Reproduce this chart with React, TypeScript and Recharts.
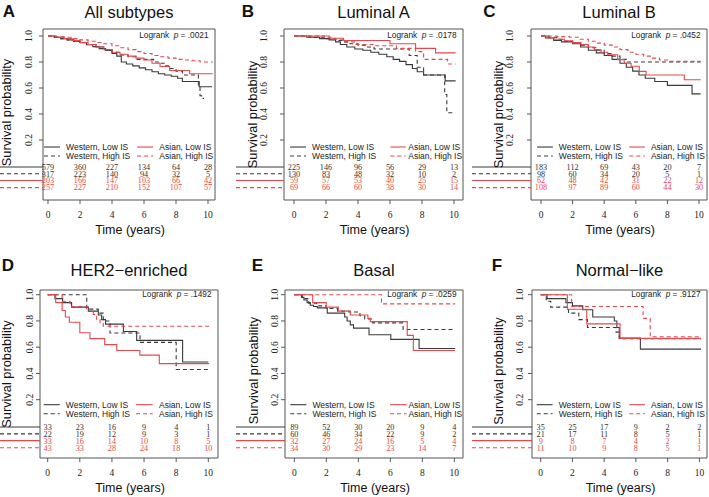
import { LineChart, Line, XAxis, YAxis, ReferenceArea, ReferenceLine, ReferenceDot } from 'recharts';

const BLACK = '#3a3a3a';
const RED = '#e5484d';
const FRAME = '#555';
const SERIF = '"Liberation Serif", "Times New Roman", serif';
const SANS = '"Liberation Sans", Arial, Helvetica, sans-serif';

const years = [0, 2, 4, 6, 8, 10];
const probTicks = [0.2, 0.4, 0.6, 0.8, 1.0];
const groups = ['Western, Low IS', 'Western, High IS', 'Asian, Low IS', 'Asian, High IS'];
const letters = ['A', 'B', 'C', 'D', 'E', 'F'];
const titles = ['All subtypes', 'Luminal A', 'Luminal B', 'HER2\u2212enriched', 'Basal', 'Normal\u2212like'];
const pValues = ['.0021', '.0178', '.0452', '.1492', '.0259', '.9127'];

// Kaplan-Meier curves, [time (years), survival]
const aWL = [[0,1],[0.4,0.99],[0.8,0.98],[1.2,0.97],[1.6,0.96],[2.0,0.948],[2.4,0.933],[2.8,0.918],[3.2,0.903],[3.6,0.888],[4.0,0.865],[4.3,0.845],[4.58,0.8],[4.9,0.785],[5.3,0.77],[5.7,0.755],[6.1,0.74],[6.5,0.725],[6.9,0.71],[7.3,0.7],[7.7,0.69],[8.1,0.675],[8.4,0.65],[9.45,0.61],[10.25,0.61]];
const aWH = [[0,1],[0.4,0.99],[0.8,0.98],[1.2,0.97],[1.6,0.96],[2.0,0.95],[2.5,0.935],[3.0,0.915],[3.5,0.895],[4.0,0.875],[4.5,0.855],[5.0,0.84],[5.5,0.82],[6.6,0.8],[7.0,0.79],[7.3,0.77],[7.6,0.75],[8.0,0.73],[8.4,0.7],[9.4,0.61],[9.5,0.54],[9.6,0.52],[9.75,0.52]];
const aAL = [[0,1],[0.5,0.99],[1.0,0.98],[1.5,0.965],[2.0,0.95],[2.5,0.935],[3.0,0.915],[3.5,0.895],[4.0,0.875],[4.5,0.86],[5.0,0.845],[5.5,0.83],[6.0,0.815],[6.5,0.79],[7.0,0.765],[7.6,0.735],[8.85,0.71],[10.3,0.71]];
const aAH = [[0,1],[0.5,0.995],[1.0,0.99],[1.5,0.98],[2.0,0.97],[2.5,0.96],[3.0,0.95],[3.5,0.94],[4.0,0.925],[4.5,0.91],[5.0,0.895],[5.5,0.88],[6.0,0.865],[6.5,0.85],[7.0,0.84],[7.5,0.83],[8.0,0.82],[8.5,0.815],[9.0,0.81],[9.5,0.8],[10.3,0.8]];

const bWL = [[0,1],[0.8,0.99],[1.6,0.98],[2.2,0.97],[2.6,0.955],[2.9,0.935],[3.3,0.915],[3.8,0.9],[4.3,0.89],[4.8,0.875],[5.3,0.86],[5.8,0.84],[6.2,0.82],[6.6,0.805],[7.0,0.78],[7.4,0.75],[7.7,0.725],[8.1,0.7],[9.45,0.655],[10.1,0.655]];
const bWH = [[0,1],[1.0,0.99],[2.0,0.98],[2.6,0.965],[3.0,0.955],[3.5,0.94],[4.0,0.93],[4.5,0.915],[5.0,0.9],[7.2,0.85],[7.7,0.76],[8.1,0.7],[9.42,0.55],[9.55,0.41],[9.95,0.41]];
const bAL = [[0,1],[2.2,0.983],[3.1,0.965],[6.0,0.94],[7.6,0.905],[8.85,0.87],[10.1,0.87]];
const bAH = [[0,1],[1.9,0.99],[2.3,0.975],[3.1,0.955],[3.8,0.935],[5.0,0.925],[6.4,0.905],[7.6,0.88],[8.1,0.82],[9.6,0.785],[10.1,0.785]];

const cWL = [[0,1],[0.3,0.985],[0.8,0.965],[1.3,0.955],[2.0,0.94],[2.5,0.915],[3.0,0.89],[3.5,0.87],[4.0,0.85],[4.5,0.82],[5.0,0.79],[5.4,0.76],[5.8,0.73],[6.2,0.7],[6.6,0.675],[7.2,0.65],[8.0,0.62],[9.56,0.555],[10.1,0.555]];
const cWH = [[0,1],[0.5,0.99],[1.0,0.975],[1.5,0.96],[2.0,0.95],[2.5,0.93],[3.0,0.91],[3.5,0.89],[4.0,0.865],[4.5,0.845],[5.0,0.82],[5.4,0.8],[10.1,0.8]];
const cAL = [[0,1],[0.4,0.985],[0.84,0.975],[1.48,0.964],[2.0,0.95],[2.53,0.935],[3.0,0.915],[3.38,0.895],[3.8,0.875],[4.22,0.856],[4.85,0.818],[5.27,0.79],[5.7,0.767],[6.22,0.728],[6.65,0.7],[9.07,0.664],[10.1,0.664]];
const cAH = [[0,1],[1.0,0.995],[1.8,0.99],[2.4,0.975],[3.0,0.96],[3.5,0.945],[4.0,0.93],[4.5,0.915],[5.0,0.895],[5.5,0.875],[6.0,0.86],[6.5,0.845],[7.0,0.83],[7.5,0.815],[8.0,0.805],[10.1,0.805]];

const dWL = [[0,1],[0.45,0.97],[0.93,0.94],[1.49,0.905],[2.53,0.875],[3.15,0.845],[3.36,0.81],[3.6,0.776],[4.71,0.72],[5.54,0.652],[8.4,0.487],[10.0,0.487]];
const dWH = [[0,1],[2.43,0.89],[3.15,0.86],[3.46,0.8],[3.88,0.708],[5.75,0.637],[8.0,0.43],[10.05,0.43]];
const dAL = [[0,1],[0.5,0.94],[0.9,0.88],[1.1,0.83],[1.35,0.79],[2.0,0.71],[2.63,0.665],[3.55,0.62],[4.3,0.575],[5.74,0.54],[6.95,0.475],[10.05,0.475]];
const dAH = [[0,1],[0.9,0.95],[1.4,0.91],[2.4,0.885],[2.84,0.85],[3.05,0.81],[3.26,0.78],[3.46,0.76],[10.05,0.76]];

const eWL = [[0,1],[0.45,0.98],[0.6,0.96],[0.8,0.94],[1.0,0.92],[1.2,0.91],[1.44,0.9],[2.06,0.86],[3.15,0.83],[3.3,0.8],[3.5,0.77],[3.7,0.745],[4.67,0.695],[6.03,0.66],[7.8,0.59],[10.05,0.59]];
const eWH = [[0,1],[0.5,0.97],[0.9,0.935],[1.4,0.915],[2.0,0.895],[2.7,0.875],[3.4,0.868],[4.1,0.84],[4.4,0.815],[4.9,0.785],[6.8,0.735],[10.05,0.735]];
const eAL = [[0,1],[1.15,0.94],[2.0,0.905],[2.75,0.875],[3.5,0.845],[4.6,0.82],[4.75,0.795],[7.06,0.69],[7.44,0.575],[10.05,0.575]];
const eAH = [[0,1],[5.45,0.93],[10.05,0.93]];

const fWL = [[0,1],[0.4,0.97],[1.59,0.94],[2.0,0.915],[2.65,0.885],[3.28,0.83],[4.64,0.8],[4.8,0.75],[4.95,0.67],[6.28,0.585],[10.1,0.585]];
const fWH = [[0,1],[0.35,0.95],[0.63,0.905],[1.75,0.86],[2.4,0.81],[2.95,0.75],[4.75,0.715],[4.95,0.665],[10.1,0.665]];
const fAL = [[0,1],[1.68,0.889],[2.9,0.778],[5.0,0.667],[10.1,0.667]];
const fAH = [[0,1],[1.95,0.91],[6.45,0.82],[6.9,0.68],[10.1,0.68]];

// number at risk at years 0..10, rows in group order
const aRisk = [[579,360,227,134,64,28],[317,223,140,94,32,5],[203,166,147,103,66,42],[257,227,210,152,107,57]];
const bRisk = [[225,146,96,56,29,13],[130,83,48,32,10,2],[59,57,53,40,25,15],[69,66,60,38,30,14]];
const cRisk = [[183,112,69,43,20,7],[98,60,34,20,5,1],[62,48,42,31,22,12],[108,97,89,60,44,30]];
const dRisk = [[33,23,16,9,4,1],[22,19,12,9,3,1],[33,16,14,10,8,5],[43,33,28,24,18,10]];
const eRisk = [[89,52,30,20,9,4],[60,46,34,22,9,2],[32,27,24,16,5,4],[34,30,29,23,14,7]];
const fRisk = [[35,25,17,9,2,2],[21,17,11,8,5,1],[9,8,7,4,2,1],[11,10,9,8,5,1]];

const panelCurves = [[aWL, aWH, aAL, aAH], [bWL, bWH, bAL, bAH], [cWL, cWH, cAL, cAH], [dWL, dWH, dAL, dAH], [eWL, eWH, eAL, eAH], [fWL, fWH, fAL, fAH]];
const panelRisk = [aRisk, bRisk, cRisk, dRisk, eRisk, fRisk];

const seriesStyle = [
  { color: BLACK, dash: undefined },
  { color: BLACK, dash: '4 3' },
  { color: RED, dash: undefined },
  { color: RED, dash: '4 3' },
];

// layout: chart rect, plot box [l,t,r,b], pixel of x=0 / y=1, px per unit
const layout = [
  { left: 0, top: 0, width: 236, height: 248, box: [43, 29, 215, 200], x0: 48, ppu: 16, y1: 36, ppy: 130, yGap: 14, red: [5.57, 6.57, 6.96], letter: [2.7, 16.5], yLab: [10.5, 112.5] },
  { left: 236, top: 0, width: 236, height: 248, box: [284, 29, 463, 200], x0: 294, ppu: 16, y1: 36, ppy: 130, yGap: 20, red: [6.02, 6.98, 7.14], letter: [241.7, 16.5], yLab: [257, 114.5] },
  { left: 472, top: 0, width: 237, height: 248, box: [531, 29, 707, 200], x0: 541, ppu: 15.8, y1: 36, ppy: 130, yGap: 21, red: [5.59, 6.58, 6.96], letter: [483.3, 16.5], yLab: [503, 114.5] },
  { left: 0, top: 250, width: 236, height: 247, box: [40, 290, 218, 458], x0: 47.7, ppu: 16.06, y1: 294.7, ppy: 131.25, yGap: 10.5, red: [5.5, 6.54, 6.93], letter: [1.7, 271.3], yLab: [11, 374] },
  { left: 236, top: 250, width: 236, height: 247, box: [285, 290, 463, 458], x0: 294.3, ppu: 16, y1: 294.7, ppy: 131.25, yGap: 10, red: [5.98, 7.02, 7.13], letter: [251.7, 271.3], yLab: [258, 370.5] },
  { left: 472, top: 250, width: 237, height: 247, box: [532, 290, 707, 458], x0: 540.7, ppu: 15.87, y1: 294.7, ppy: 131.25, yGap: 12, red: [5.58, 6.57, 6.95], letter: [491.7, 271.3], yLab: [503, 371] },
];

const blackLegend = [-0.25, 0.75, 1.13];
const riskRows = [-0.008, -0.06, -0.112, -0.166];

const toPts = (c: number[][]) => c.map(([t, s]) => ({ t, s }));

const ProbTick = (props: any) => {
  const { x, y, payload } = props;
  return (
    <text x={x} y={y} transform={`rotate(-90 ${x} ${y})`} textAnchor="middle" fontSize={9.5} fontFamily={SERIF} fill="#222">
      {Number(payload.value).toFixed(1)}
    </text>
  );
};

function Panel({ idx }: { idx: number }) {
  const L = layout[idx];
  const [bl, bt, br, bb] = L.box;
  const xDom: [number, number] = [(bl - L.x0) / L.ppu, (br - L.x0) / L.ppu];
  const yDom: [number, number] = [1 - (bb - L.y1) / L.ppy, 1 + (L.y1 - bt) / L.ppy];
  const yAxisW = bl - L.left;
  const rowStart = xDom[0] - yAxisW / L.ppu;
  const legY = L.top === 0 ? [0.146, 0.077] : [0.162, 0.093];
  const curves = panelCurves[idx];
  const risk = panelRisk[idx];
  const legendPos = (g: number) => {
    const p = g < 2 ? blackLegend : L.red;
    return { x1: p[0], x2: p[1], tx: p[2], y: legY[g % 2] };
  };

  return (
    <div style={{ position: 'absolute', left: L.left, top: L.top }}>
      <LineChart
        width={L.width}
        height={L.height}
        margin={{ top: bt - L.top, right: L.left + L.width - br, bottom: 0, left: 0 }}
      >
        <XAxis
          type="number"
          dataKey="t"
          domain={xDom}
          allowDataOverflow
          ticks={years}
          interval={0}
          height={L.top + L.height - bb}
          axisLine={false}
          tickLine={{ stroke: FRAME }}
          tickSize={4}
          tickMargin={7}
          tick={{ fill: '#222', fontSize: 9.5, fontFamily: SERIF }}
        />
        <YAxis
          type="number"
          domain={yDom}
          allowDataOverflow
          ticks={probTicks}
          interval={0}
          width={yAxisW}
          axisLine={false}
          tickLine={{ stroke: FRAME }}
          tickSize={4}
          tickMargin={Math.max(0, L.yGap - 3.1 - 4)}
          tick={<ProbTick />}
        />
        <ReferenceArea x1={xDom[0]} x2={xDom[1]} y1={yDom[0]} y2={yDom[1]} fill="none" stroke={FRAME} strokeWidth={1} ifOverflow="visible" />
        {curves.map((c, g) => (
          <Line
            key={g}
            data={toPts(c)}
            dataKey="s"
            type="stepAfter"
            stroke={seriesStyle[g].color}
            strokeDasharray={seriesStyle[g].dash}
            strokeWidth={1.1}
            dot={false}
            activeDot={false}
            isAnimationActive={false}
          />
        ))}
        {groups.map((name, g) => {
          const lp = legendPos(g);
          return [
            <ReferenceLine
              key={`ls${g}`}
              segment={[{ x: lp.x1, y: lp.y }, { x: lp.x2, y: lp.y }]}
              stroke={seriesStyle[g].color}
              strokeDasharray={seriesStyle[g].dash}
              strokeWidth={1.1}
              ifOverflow="visible"
            />,
            <ReferenceDot
              key={`lt${g}`}
              x={lp.tx}
              y={lp.y}
              r={0}
              fill="none"
              stroke="none"
              ifOverflow="visible"
              label={{ value: name, position: 'right', offset: 0, fill: '#222', fontSize: 8.5, fontFamily: SANS }}
            />,
            <ReferenceLine
              key={`rl${g}`}
              segment={[{ x: rowStart, y: riskRows[g] }, { x: xDom[0], y: riskRows[g] }]}
              stroke={seriesStyle[g].color}
              strokeDasharray={seriesStyle[g].dash}
              strokeWidth={1.1}
              ifOverflow="visible"
            />,
            ...risk[g].map((n, k) => (
              <ReferenceDot
                key={`r${g}-${k}`}
                x={years[k]}
                y={riskRows[g]}
                r={0}
                fill="none"
                stroke="none"
                ifOverflow="visible"
                label={{ value: String(n), position: 'center', fill: g < 2 ? '#333' : RED, fontSize: 8.2, fontFamily: SERIF }}
              />
            )),
          ];
        })}
      </LineChart>
    </div>
  );
}

function Overlay() {
  return (
    <svg width={709} height={497} style={{ position: 'absolute', left: 0, top: 0, pointerEvents: 'none' }}>
      {layout.map((L, i) => {
        const [bl, , br, bb] = L.box;
        const cx = (bl + br) / 2;
        const top = L.top === 0;
        return (
          <g key={i}>
            <text x={L.letter[0]} y={L.letter[1]} fontFamily={SANS} fontWeight="bold" fontSize={17} fill="#111">{letters[i]}</text>
            <text x={cx} y={top ? 17.5 : 275.5} textAnchor="middle" fontFamily={SANS} fontSize={16.5} fill="#111">{titles[i]}</text>
            <text x={br - 6.5} y={top ? 38 : 297} textAnchor="end" fontFamily={SANS} fontSize={8.3} fill="#222">
              Logrank
              <tspan dx={4.5} fontStyle="italic">p</tspan>
              <tspan>{` = ${pValues[i]}`}</tspan>
            </text>
            <text x={cx + 1} y={bb + 34} textAnchor="middle" fontFamily={SANS} fontSize={12.5} fill="#111">Time (years)</text>
            <text
              x={L.yLab[0]}
              y={L.yLab[1]}
              transform={`rotate(-90 ${L.yLab[0]} ${L.yLab[1]})`}
              textAnchor="middle"
              fontFamily={SANS}
              fontSize={12.8}
              fill="#111"
            >
              Survival probability
            </text>
          </g>
        );
      })}
    </svg>
  );
}

export default function App() {
  return (
    <div style={{ position: 'absolute', left: 0, top: 0, width: 709, height: 497, background: '#fff', overflow: 'hidden' }}>
      {layout.map((_, i) => (
        <Panel key={i} idx={i} />
      ))}
      <Overlay />
    </div>
  );
}
